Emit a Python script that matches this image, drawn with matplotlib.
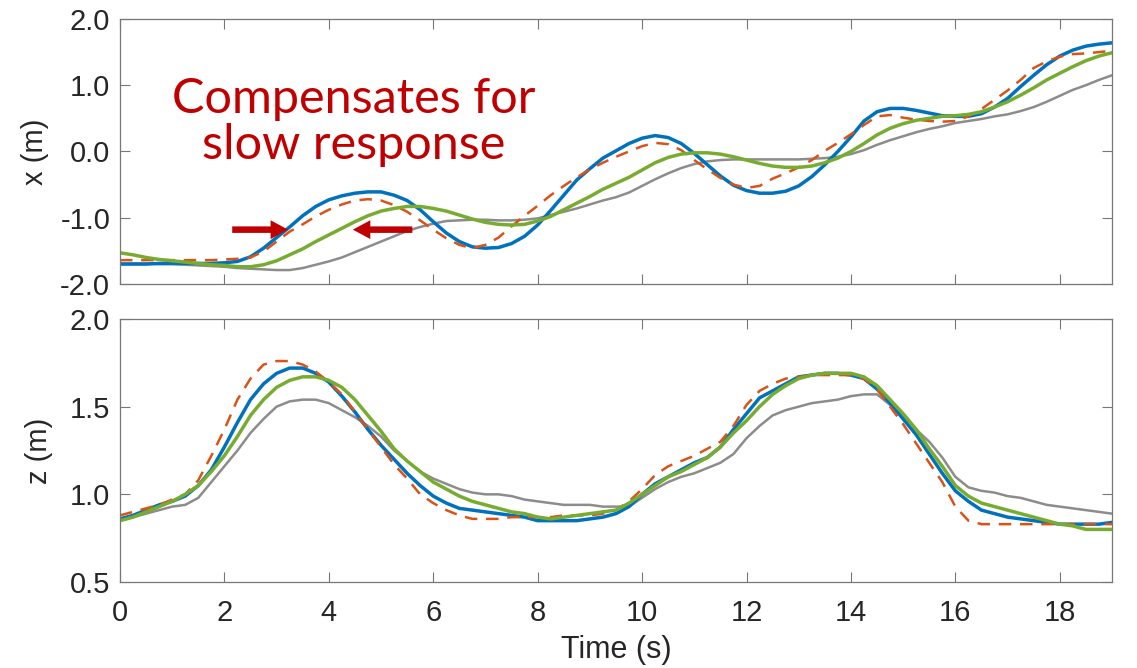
import numpy as np
import matplotlib
matplotlib.use('Agg')
import matplotlib.pyplot as plt

plt.rcParams['font.family'] = ['Liberation Sans', 'DejaVu Sans']

# time samples (s), every 0.25 s
t = np.linspace(0, 19, 77)

# x (m) - top panel
x_blue = [-1.70, -1.70, -1.70, -1.69, -1.69, -1.69, -1.69, -1.69, -1.68, -1.66,
          -1.59, -1.46, -1.30, -1.14, -0.97, -0.83, -0.73, -0.67, -0.63, -0.61,
          -0.61, -0.66, -0.74, -0.88, -1.06, -1.23, -1.36, -1.44, -1.46, -1.45,
          -1.39, -1.28, -1.11, -0.89, -0.66, -0.43, -0.26, -0.10, 0.01, 0.12,
          0.20, 0.24, 0.21, 0.12, -0.03, -0.20, -0.37, -0.51, -0.59, -0.63,
          -0.63, -0.60, -0.52, -0.38, -0.20, 0.00, 0.22, 0.46, 0.60, 0.65,
          0.65, 0.62, 0.58, 0.54, 0.53, 0.53, 0.57, 0.67, 0.80, 0.98,
          1.15, 1.31, 1.44, 1.53, 1.59, 1.62, 1.64]
x_orange = [-1.64, -1.64, -1.64, -1.64, -1.64, -1.64, -1.64, -1.64, -1.63, -1.62,
            -1.60, -1.51, -1.36, -1.21, -1.10, -0.98, -0.88, -0.80, -0.74, -0.72,
            -0.74, -0.81, -0.91, -1.04, -1.18, -1.31, -1.41, -1.46, -1.41, -1.30,
            -1.13, -0.97, -0.82, -0.66, -0.52, -0.39, -0.27, -0.17, -0.08, 0.00,
            0.08, 0.13, 0.11, 0.02, -0.13, -0.27, -0.40, -0.50, -0.55, -0.52,
            -0.41, -0.33, -0.24, -0.13, 0.01, 0.13, 0.26, 0.40, 0.53, 0.55,
            0.51, 0.48, 0.46, 0.45, 0.46, 0.53, 0.64, 0.78, 0.92, 1.08,
            1.26, 1.36, 1.43, 1.47, 1.48, 1.50, 1.52]
x_green = [-1.53, -1.56, -1.60, -1.63, -1.65, -1.67, -1.69, -1.71, -1.72, -1.74,
           -1.74, -1.71, -1.65, -1.56, -1.47, -1.36, -1.26, -1.16, -1.06, -0.97,
           -0.90, -0.86, -0.83, -0.83, -0.86, -0.90, -0.96, -1.02, -1.07, -1.10,
           -1.11, -1.10, -1.05, -0.98, -0.88, -0.78, -0.68, -0.57, -0.48, -0.39,
           -0.28, -0.17, -0.09, -0.04, -0.02, -0.02, -0.04, -0.08, -0.13, -0.18,
           -0.22, -0.24, -0.24, -0.22, -0.17, -0.10, 0.00, 0.12, 0.25, 0.35,
           0.42, 0.47, 0.50, 0.53, 0.54, 0.56, 0.60, 0.67, 0.75, 0.85,
           0.96, 1.08, 1.18, 1.28, 1.37, 1.44, 1.49]
x_gray = [-1.69, -1.69, -1.69, -1.70, -1.70, -1.71, -1.72, -1.73, -1.74, -1.76,
          -1.77, -1.78, -1.79, -1.79, -1.76, -1.71, -1.66, -1.60, -1.52, -1.44,
          -1.36, -1.28, -1.20, -1.14, -1.09, -1.05, -1.04, -1.03, -1.03, -1.04,
          -1.04, -1.03, -1.01, -0.96, -0.91, -0.86, -0.80, -0.74, -0.69, -0.62,
          -0.52, -0.42, -0.33, -0.25, -0.19, -0.15, -0.13, -0.12, -0.12, -0.12,
          -0.12, -0.12, -0.12, -0.11, -0.10, -0.08, -0.04, 0.02, 0.10, 0.17,
          0.23, 0.29, 0.34, 0.38, 0.43, 0.46, 0.49, 0.53, 0.56, 0.61,
          0.67, 0.75, 0.84, 0.93, 1.00, 1.08, 1.15]

# z (m) - bottom panel
z_blue = [0.86, 0.88, 0.91, 0.94, 0.96, 0.99, 1.05, 1.14, 1.27, 1.41,
          1.54, 1.63, 1.69, 1.72, 1.72, 1.69, 1.64, 1.56, 1.47, 1.37,
          1.28, 1.20, 1.12, 1.05, 0.99, 0.95, 0.92, 0.91, 0.90, 0.89,
          0.88, 0.87, 0.85, 0.85, 0.85, 0.85, 0.86, 0.87, 0.89, 0.93,
          1.00, 1.06, 1.10, 1.14, 1.18, 1.21, 1.27, 1.37, 1.46, 1.55,
          1.59, 1.63, 1.67, 1.68, 1.69, 1.69, 1.68, 1.66, 1.60, 1.52,
          1.43, 1.34, 1.23, 1.12, 1.02, 0.96, 0.91, 0.89, 0.87, 0.86,
          0.85, 0.84, 0.83, 0.83, 0.83, 0.83, 0.84]
z_orange = [0.88, 0.90, 0.92, 0.94, 0.97, 1.00, 1.08, 1.22, 1.37, 1.54,
            1.66, 1.74, 1.76, 1.76, 1.74, 1.70, 1.64, 1.57, 1.47, 1.37,
            1.27, 1.17, 1.09, 1.00, 0.95, 0.91, 0.88, 0.86, 0.86, 0.86,
            0.87, 0.87, 0.87, 0.87, 0.88, 0.88, 0.88, 0.89, 0.91, 0.96,
            1.03, 1.11, 1.16, 1.19, 1.22, 1.26, 1.30, 1.39, 1.51, 1.59,
            1.63, 1.66, 1.67, 1.68, 1.68, 1.68, 1.68, 1.66, 1.60, 1.50,
            1.40, 1.29, 1.18, 1.07, 0.93, 0.85, 0.83, 0.83, 0.83, 0.83,
            0.83, 0.83, 0.83, 0.83, 0.83, 0.83, 0.83]
z_green = [0.85, 0.87, 0.90, 0.93, 0.96, 1.00, 1.05, 1.13, 1.22, 1.33,
           1.45, 1.54, 1.61, 1.65, 1.67, 1.67, 1.65, 1.61, 1.54, 1.45,
           1.36, 1.26, 1.19, 1.13, 1.07, 1.03, 0.99, 0.96, 0.94, 0.92,
           0.90, 0.89, 0.87, 0.86, 0.87, 0.88, 0.89, 0.90, 0.91, 0.95,
           1.00, 1.05, 1.10, 1.13, 1.17, 1.21, 1.27, 1.35, 1.42, 1.50,
           1.57, 1.62, 1.66, 1.68, 1.69, 1.69, 1.69, 1.67, 1.62, 1.54,
           1.46, 1.37, 1.26, 1.16, 1.05, 0.99, 0.95, 0.93, 0.91, 0.89,
           0.87, 0.85, 0.83, 0.82, 0.80, 0.80, 0.80]
z_gray = [0.85, 0.87, 0.89, 0.91, 0.93, 0.94, 0.98, 1.07, 1.16, 1.25,
          1.35, 1.43, 1.50, 1.53, 1.54, 1.54, 1.52, 1.48, 1.44, 1.39,
          1.33, 1.25, 1.19, 1.13, 1.09, 1.06, 1.03, 1.01, 1.00, 1.00,
          0.99, 0.97, 0.96, 0.95, 0.94, 0.94, 0.94, 0.93, 0.93, 0.93,
          0.98, 1.03, 1.07, 1.10, 1.12, 1.15, 1.18, 1.23, 1.32, 1.39,
          1.45, 1.48, 1.50, 1.52, 1.53, 1.54, 1.56, 1.57, 1.57, 1.51,
          1.45, 1.37, 1.30, 1.21, 1.10, 1.04, 1.02, 1.01, 0.99, 0.98,
          0.96, 0.94, 0.93, 0.92, 0.91, 0.90, 0.89]

xticks = [0, 2, 4, 6, 8, 10, 12, 14, 16, 18]

c_blue = '#0072BD'
c_orange = '#D95319'
c_green = '#77AC30'
c_gray = '#8c8c8c'
c_red = '#C00000'

fig = plt.figure(figsize=(11.37, 6.68), dpi=100)
ax1 = fig.add_axes([0.1055, 0.5749, 0.8725, 0.3967])
ax2 = fig.add_axes([0.1055, 0.1287, 0.8725, 0.3938])


def draw(ax, g, b, o, gr):
    ax.plot(t, g, color=c_gray, lw=1.8)
    ax.plot(t, b, color=c_blue, lw=2.5)
    ax.plot(t, o, color=c_orange, lw=1.8, ls=(0, (5, 3.5)))
    ax.plot(t, gr, color=c_green, lw=2.5)
    ax.set_xlim(0, 19)
    ax.set_xticks(xticks)
    ax.tick_params(direction='in', length=7, width=0.8, color='#777777',
                   top=True, right=True, labelsize=21, labelcolor='#262626')
    ax.tick_params(axis='y', pad=7)
    ax.tick_params(axis='x', pad=12)
    for s in ax.spines.values():
        s.set_color('#777777')
        s.set_linewidth(0.9)


draw(ax1, x_gray, x_blue, x_orange, x_green)
ax1.set_ylim(-2, 2)
ax1.set_yticks([-2, -1, 0, 1, 2])
ax1.set_yticklabels(['-2.0', '-1.0', '0.0', '1.0', '2.0'])
ax1.set_xticklabels([])
ax1.set_ylabel('x (m)', fontsize=21, color='#262626', labelpad=8)

draw(ax2, z_gray, z_blue, z_orange, z_green)
ax2.set_ylim(0.5, 2)
ax2.set_yticks([0.5, 1.0, 1.5, 2.0])
ax2.set_yticklabels(['0.5', '1.0', '1.5', '2.0'])
ax2.set_ylabel('z (m)', fontsize=21, color='#262626', labelpad=12)
ax2.set_xlabel('Time (s)', fontsize=22, color='#262626', labelpad=6)

ax1.text(4.48, 0.45, 'Compensates for\nslow response', color=c_red,
         fontsize=35, family=['Lato', 'DejaVu Sans'], ha='center', va='center',
         linespacing=1.05)

arrow = dict(arrowstyle='simple,head_length=0.7,head_width=0.75,tail_width=0.26',
             color=c_red, mutation_scale=18, shrinkA=0, shrinkB=0, lw=0)
ax1.annotate('', xy=(3.22, -1.18), xytext=(2.15, -1.18), arrowprops=arrow)
ax1.annotate('', xy=(4.46, -1.18), xytext=(5.6, -1.18), arrowprops=arrow)

fig.savefig('out.png', dpi=100)
